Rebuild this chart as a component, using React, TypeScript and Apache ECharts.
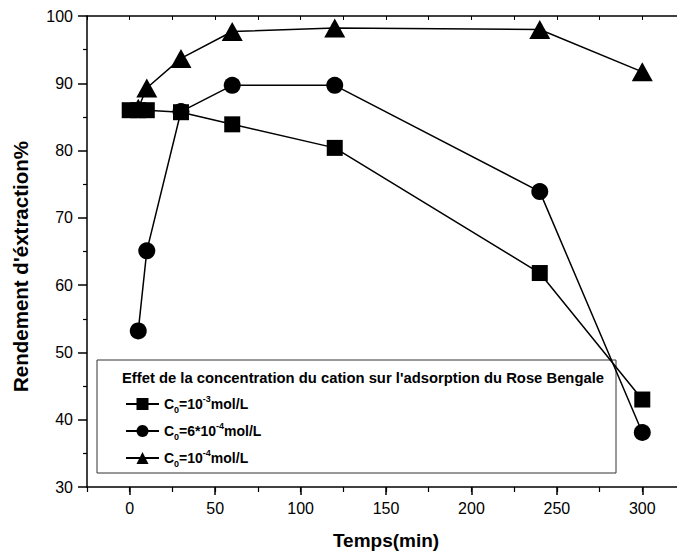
import React, { useEffect, useRef } from "react";
import * as echarts from "echarts";

const xTicks = [0, 50, 100, 150, 200, 250, 300];
const yTicks = [30, 40, 50, 60, 70, 80, 90, 100];

const seriesNames = ["C0=10-3mol/L", "C0=6*10-4mol/L", "C0=10-4mol/L"];
const legendRich = [
  "{b|C}{sub|0}{b|=10}{sup|-3}{b|mol/L}",
  "{b|C}{sub|0}{b|=6*10}{sup|-4}{b|mol/L}",
  "{b|C}{sub|0}{b|=10}{sup|-4}{b|mol/L}",
];
const legendTitle = "Effet de la concentration du cation sur l'adsorption du Rose Bengale";

const sqTime = [0, 5, 10, 30, 60, 120, 240, 300];
const sqVal = [86.0, 86.0, 86.0, 85.7, 83.9, 80.4, 61.8, 43.0];
const ciTime = [5, 10, 30, 60, 120, 240, 300];
const ciVal = [53.2, 65.1, 85.8, 89.7, 89.7, 73.9, 38.1];
const trTime = [5, 10, 30, 60, 120, 240, 300];
const trVal = [86.3, 89.3, 93.7, 97.7, 98.2, 98.0, 91.7];

const FONT = "'Liberation Sans', Arial, sans-serif";

export default function App() {
  const ref = useRef<HTMLDivElement>(null);
  useEffect(() => {
    if (!ref.current) return;
    const chart = echarts.init(ref.current, null, { renderer: "svg" });
    const zip = (t: number[], v: number[]) => t.map((x, i) => [x, v[i]]);
    const gridRect = { left: 87, right: -6, top: 16, bottom: 73 };
    const lineCommon = {
      type: "line",
      xAxisIndex: 0,
      yAxisIndex: 0,
      lineStyle: { color: "#000", width: 1.5 },
      itemStyle: { color: "#000" },
      emphasis: { disabled: true },
      z: 3,
    };
    chart.setOption({
      animation: false,
      backgroundColor: "#fff",
      textStyle: { fontFamily: FONT },
      grid: [
        { ...gridRect, containLabel: false },
        { ...gridRect, containLabel: false },
      ],
      xAxis: [
        {
          type: "value",
          gridIndex: 0,
          position: "bottom",
          min: -25,
          max: 325,
          axisLine: { show: true, onZero: false, lineStyle: { color: "#000", width: 1.5 } },
          axisTick: { show: true, inside: false, length: 8, customValues: xTicks, lineStyle: { color: "#000", width: 1.5 } },
          axisLabel: { show: true, customValues: xTicks, margin: 13, fontSize: 16, color: "#000", fontFamily: FONT },
          splitLine: { show: false },
          name: "Temps(min)",
          nameLocation: "middle",
          nameGap: 44,
          nameTextStyle: { fontSize: 19, fontWeight: "bold", color: "#000", fontFamily: FONT },
        },
        {
          type: "value",
          gridIndex: 0,
          position: "top",
          min: -25,
          max: 325,
          interval: 25,
          axisLine: { show: true, onZero: false, lineStyle: { color: "#000", width: 1.5 } },
          axisTick: { show: true, inside: true, length: 4, lineStyle: { color: "#000", width: 1 } },
          axisLabel: { show: false },
          splitLine: { show: false },
        },
        {
          type: "value",
          gridIndex: 1,
          position: "bottom",
          min: -25,
          max: 325,
          interval: 25,
          axisLine: { show: false, onZero: false },
          axisTick: { show: true, inside: false, length: 5, lineStyle: { color: "#000", width: 1.2 } },
          axisLabel: { show: false },
          splitLine: { show: false },
        },
      ],
      yAxis: [
        {
          type: "value",
          gridIndex: 0,
          position: "left",
          min: yTicks[0],
          max: yTicks[yTicks.length - 1],
          interval: 10,
          axisLine: { show: true, onZero: false, lineStyle: { color: "#000", width: 1.5 } },
          axisTick: { show: true, inside: false, length: 9, lineStyle: { color: "#000", width: 1.5 } },
          minorTick: { show: true, splitNumber: 2, length: 4, lineStyle: { color: "#000", width: 1.2 } },
          axisLabel: { show: true, margin: 14, fontSize: 16, color: "#000", fontFamily: FONT },
          splitLine: { show: false },
          name: "Rendement d'éxtraction%",
          nameLocation: "middle",
          nameGap: 56,
          nameRotate: 90,
          nameTextStyle: { fontSize: 20.5, fontWeight: "bold", color: "#000", fontFamily: FONT, padding: [0, 30, 0, 0] },
        },
        {
          type: "value",
          gridIndex: 1,
          min: 30,
          max: 100,
          axisLine: { show: false, onZero: false },
          axisTick: { show: false },
          axisLabel: { show: false },
          splitLine: { show: false },
        },
      ],
      legend: {
        orient: "vertical",
        left: 120,
        top: 389,
        itemWidth: 33,
        itemHeight: 15,
        itemGap: 7,
        data: seriesNames,
        formatter: (name: string) => legendRich[seriesNames.indexOf(name)],
        textStyle: {
          color: "#000",
          fontFamily: FONT,
          rich: {
            b: { fontSize: 14, fontWeight: "bold", color: "#000", fontFamily: FONT, lineHeight: 20 },
            sub: { fontSize: 9, fontWeight: "bold", color: "#000", fontFamily: FONT, verticalAlign: "bottom" },
            sup: { fontSize: 9, fontWeight: "bold", color: "#000", fontFamily: FONT, verticalAlign: "top" },
          },
        },
      },
      graphic: [
        {
          type: "rect",
          shape: { x: 97, y: 360, width: 519, height: 113 },
          style: { fill: "none", stroke: "#333", lineWidth: 1 },
          z: 1,
        },
        {
          type: "text",
          x: 122,
          y: 378,
          style: {
            text: legendTitle,
            fontSize: 14.8,
            fontWeight: "bold",
            fontFamily: FONT,
            fill: "#000",
            verticalAlign: "middle",
          },
          z: 1,
        },
      ],
      series: [
        { ...lineCommon, name: seriesNames[0], data: zip(sqTime, sqVal), symbol: "rect", symbolSize: 16 },
        { ...lineCommon, name: seriesNames[1], data: zip(ciTime, ciVal), symbol: "circle", symbolSize: 17 },
        { ...lineCommon, name: seriesNames[2], data: zip(trTime, trVal), symbol: "triangle", symbolSize: [21, 19] },
      ],
    });
    return () => chart.dispose();
  }, []);
  return <div ref={ref} style={{ width: 685, height: 560, margin: -8 }} />;
}
